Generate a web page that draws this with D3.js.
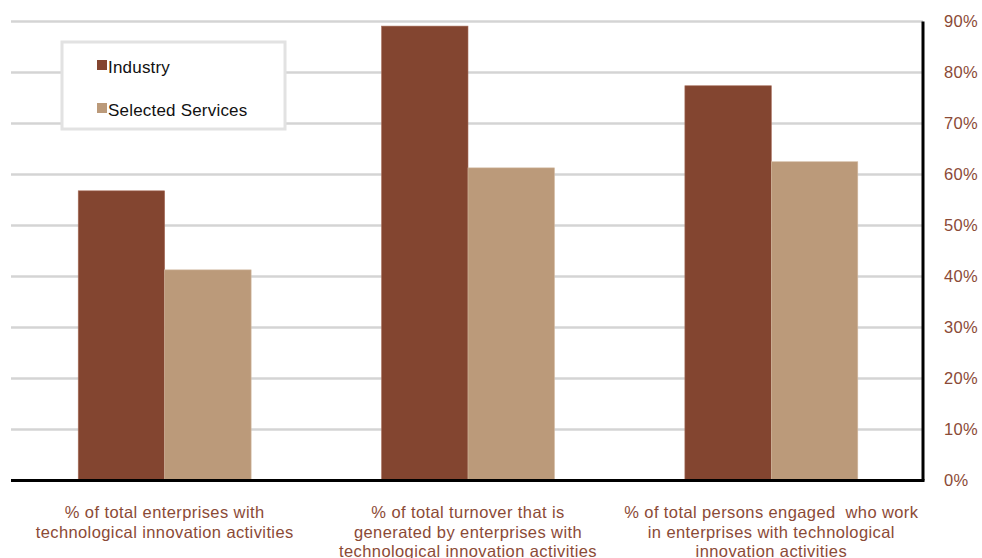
<!DOCTYPE html>
<html>
<head>
<meta charset="utf-8">
<script src="https://cdn.jsdelivr.net/npm/d3@7"></script>
<style>
  html, body { margin: 0; padding: 0; background: #fff; }
  svg { display: block; font-family: "Liberation Sans", Arial, sans-serif; }
</style>
</head>
<body>
<svg id="chart" width="982" height="558"></svg>
<script>
// Innovation indicators: industry vs selected services
const categories = [
  ["% of total enterprises with", "technological innovation activities"],
  ["% of total turnover that is", "generated by enterprises with", "technological innovation activities"],
  ["% of total persons engaged  who work", "in enterprises with technological", "innovation activities"]
];
const seriesNames = ["Industry", "Selected Services"];
const industry = [56.8, 89.1, 77.4];
const services = [41.3, 61.3, 62.5];
const tickValues = [0, 10, 20, 30, 40, 50, 60, 70, 80, 90];

const colors = ["#834530", "#bb9a7a"];
const textColor = "#8b4a36";

const svg = d3.select("#chart");
const W = 982;
const x0 = 11, x1 = 923;
const yTop = 21.5, yBot = 480.5;

const x = d3.scaleBand()
  .domain(d3.range(categories.length))
  .range([x0 + 2, x1])
  .paddingInner(0.43)
  .paddingOuter(0.215);
const xs = d3.scaleBand().domain([0, 1]).range([0, x.bandwidth()]);
const y = d3.scaleLinear().domain([0, 90]).range([yBot, yTop]);

// gridlines
svg.append("g")
  .selectAll("line")
  .data(tickValues.filter(d => d > 0))
  .join("line")
  .attr("x1", x0).attr("x2", x1)
  .attr("y1", d => y(d)).attr("y2", d => y(d))
  .attr("stroke", "#d4d4d4")
  .attr("stroke-width", 2.5);

// bars
const rows = categories.map((c, i) => [industry[i], services[i]]);
const groups = svg.append("g").selectAll("g")
  .data(rows)
  .join("g")
  .attr("transform", (d, i) => `translate(${x(i)},0)`);
groups.selectAll("rect")
  .data(d => d)
  .join("rect")
  .attr("x", (d, j) => xs(j))
  .attr("width", xs.bandwidth())
  .attr("y", d => y(d))
  .attr("height", d => yBot - y(d))
  .attr("fill", (d, j) => colors[j])
  .attr("stroke", (d, j) => j === 0 ? "#a8705e" : "#d2b9a0")
  .attr("stroke-width", 0.6);

// right axis
const yAxis = d3.axisRight(y).tickValues(tickValues).tickSize(0).tickPadding(21)
  .tickFormat(d => d + "%");
const ya = svg.append("g").attr("transform", `translate(${x1},0)`).call(yAxis);
ya.select(".domain").attr("stroke", "#000").attr("stroke-width", 3)
  .attr("d", `M0,${yTop}V${yBot}`);
ya.selectAll("text")
  .attr("fill", textColor)
  .attr("font-size", 16.5)
  .attr("letter-spacing", 0.3)
  .attr("font-family", "Liberation Sans, Arial, sans-serif");

// baseline
svg.append("line")
  .attr("x1", x0).attr("x2", x1 + 1.5)
  .attr("y1", yBot).attr("y2", yBot)
  .attr("stroke", "#000").attr("stroke-width", 3);

// category labels
const labels = svg.append("g").selectAll("text")
  .data(categories)
  .join("text")
  .attr("text-anchor", "middle")
  .attr("fill", textColor)
  .attr("font-size", 16.5)
  .attr("letter-spacing", 0.4)
  .attr("transform", (d, i) => `translate(${x(i) + x.bandwidth() / 2},0)`);
labels.selectAll("tspan")
  .data(d => d)
  .join("tspan")
  .attr("x", 0)
  .attr("y", (d, k) => 518 + k * 19.5)
  .style("white-space", "pre")
  .text(d => d);

// legend
const lg = svg.append("g");
lg.append("rect")
  .attr("x", 62).attr("y", 42).attr("width", 223).attr("height", 87)
  .attr("fill", "#fff").attr("stroke", "#e2e2e2").attr("stroke-width", 3);
const items = lg.selectAll("g.item")
  .data(seriesNames)
  .join("g")
  .attr("class", "item")
  .attr("transform", (d, i) => `translate(97,${60 + i * 43})`);
items.append("rect")
  .attr("width", 10).attr("height", 10)
  .attr("fill", (d, i) => colors[i]);
items.append("text")
  .attr("x", 11).attr("y", 12.5)
  .attr("font-size", 17)
  .attr("letter-spacing", 0.2)
  .attr("fill", "#111")
  .text(d => d);
</script>
</body>
</html>
